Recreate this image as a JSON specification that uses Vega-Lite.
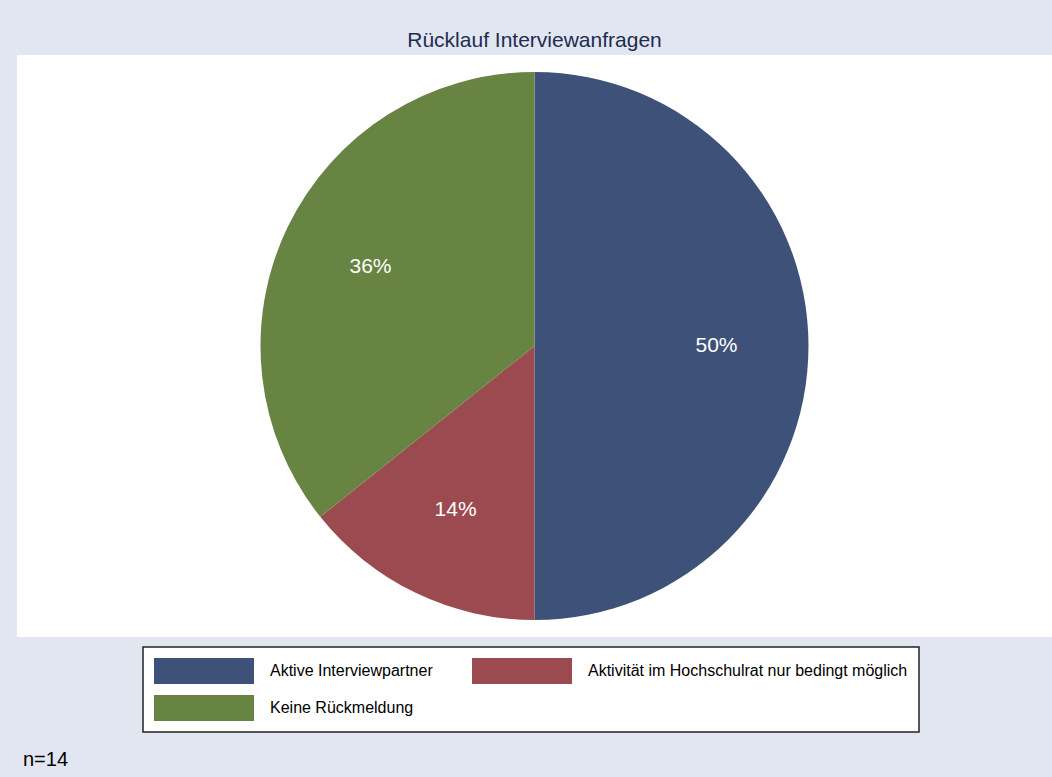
{
  "$schema": "https://vega.github.io/schema/vega-lite/v6.json",
  "background": "#E1E6F0",
  "padding": {"left": 17, "top": 30, "right": 0, "bottom": 10},
  "title": {
    "text": "n=14",
    "orient": "bottom",
    "anchor": "start",
    "frame": "bounds",
    "font": "Liberation Sans",
    "fontSize": 20,
    "fontWeight": "normal",
    "color": "black",
    "baseline": "alphabetic",
    "offset": 33,
    "dx": 6
  },
  "config": {
    "view": {"stroke": null, "fill": "white"},
    "font": "Liberation Sans"
  },
  "vconcat": [
    {
      "width": 1035,
      "height": 582,
      "view": {"fill": "white", "stroke": null},
      "title": {
        "text": "Rücklauf Interviewanfragen",
        "font": "Liberation Sans",
        "fontSize": 21,
        "fontWeight": "normal",
        "color": "#1F2C52",
        "baseline": "alphabetic",
        "offset": -13,
        "anchor": "middle"
      },
      "data": {
        "values": [
          {"Nr": 1, "Status": "Aktive Interviewpartner", "Anzahl": 7, "Label": "50%"},
          {"Nr": 2, "Status": "Aktivität im Hochschulrat nur bedingt möglich", "Anzahl": 2, "Label": "14%"},
          {"Nr": 3, "Status": "Keine Rückmeldung", "Anzahl": 5, "Label": "36%"}
        ]
      },
      "encoding": {
        "theta": {"field": "Anzahl", "type": "quantitative", "stack": true},
        "order": {"field": "Nr", "type": "quantitative"}
      },
      "layer": [
        {
          "mark": {"type": "arc", "outerRadius": 274},
          "encoding": {
            "color": {
              "field": "Status",
              "type": "nominal",
              "scale": {
                "domain": ["Aktive Interviewpartner", "Aktivität im Hochschulrat nur bedingt möglich", "Keine Rückmeldung"],
                "range": ["#3E5179", "#9B4A4F", "#678442"]
              },
              "legend": {
                "title": null,
                "orient": "none",
                "legendX": 126,
                "legendY": 592,
                "direction": "horizontal",
                "columns": 2,
                "symbolType": "M-1,-1H6.692V1H-1Z",
                "symbolSize": 676,
                "symbolStrokeWidth": 0,
                "symbolOpacity": 1,
                "labelFont": "Liberation Sans",
                "labelFontSize": 16,
                "labelColor": "black",
                "labelOffset": 90,
                "labelLimit": 0,
                "columnPadding": 39,
                "rowPadding": 11,
                "padding": 11,
                "strokeColor": "#222222",
                "fillColor": "white",
                "encode": {"legend": {"update": {"strokeWidth": {"value": 1.5}}}}
              }
            }
          }
        },
        {
          "mark": {"type": "text", "radius": 182, "fontSize": 21, "font": "Liberation Sans"},
          "encoding": {
            "text": {"field": "Label"},
            "detail": {"field": "Status"},
            "color": {"value": "white"}
          }
        }
      ]
    }
  ]
}
